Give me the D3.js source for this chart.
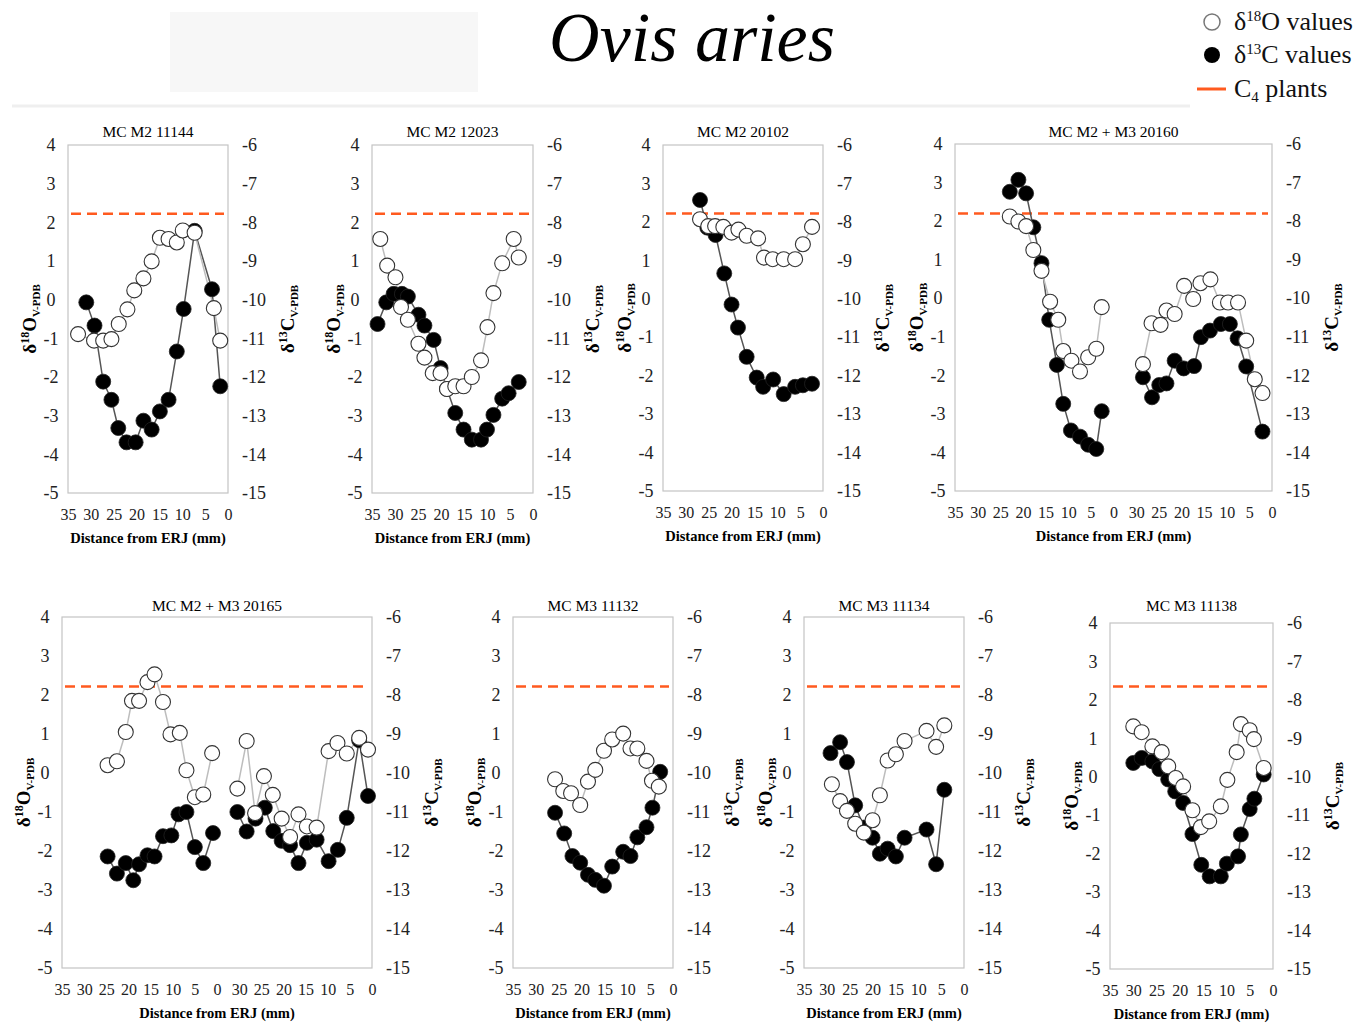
<!DOCTYPE html>
<html lang="en">
<head>
<meta charset="UTF-8">
<title>Ovis aries</title>
<style>
  body { margin: 0; background: #fff; }
  svg text { font-family: "Liberation Serif", "DejaVu Serif", serif; }
</style>
</head>
<body>
<svg id="chart" width="1368" height="1025"></svg>
<script src="https://d3js.org/d3.v7.min.js"></script>
<script>
var SERIF = "'Liberation Serif', 'DejaVu Serif', serif";

// sample names (panel titles)
var sampleNames = ["MC M2 11144", "MC M2 12023", "MC M2 20102", "MC M2 + M3 20160",
                   "MC M2 + M3 20165", "MC M3 11132", "MC M3 11134", "MC M3 11138"];

// tick values
var o18Ticks = [-5, -4, -3, -2, -1, 0, 1, 2, 3, 4];
var c13Ticks = [-15, -14, -13, -12, -11, -10, -9, -8, -7, -6];
var distTicks = [35, 30, 25, 20, 15, 10, 5, 0];

// C4 plants threshold, d13C (per panel, as read)
var c4Level = [-7.78, -7.78, -7.78, -7.80, -7.78, -7.78, -7.78, -7.65];

// [distance from ERJ (mm), value]
var o11144 = [[32.8,-0.89],[29.3,-1.06],[27.3,-1.06],[25.5,-1.02],[23.9,-0.63],[22.0,-0.25],[20.5,0.24],[18.5,0.55],[16.7,0.99],[14.9,1.60],[13.0,1.57],[11.2,1.48],[9.9,1.79],[7.3,1.73],[3.1,-0.22],[1.7,-1.06]];
var c11144 = [[31.0,-10.07],[29.2,-10.67],[27.3,-12.12],[25.5,-12.59],[24.0,-13.32],[22.2,-13.69],[20.2,-13.69],[18.5,-13.13],[16.7,-13.36],[14.9,-12.89],[13.0,-12.59],[11.2,-11.34],[9.7,-10.24],[7.3,-8.22],[3.5,-9.73],[1.7,-12.24]];

var o12023 = [[33.2,1.57],[31.7,0.88],[29.9,0.58],[28.7,-0.19],[27.2,-0.52],[24.9,-1.14],[23.6,-1.50],[21.8,-1.90],[20.1,-1.90],[18.7,-2.31],[16.9,-2.24],[15.1,-2.24],[13.3,-2.00],[11.3,-1.57],[9.9,-0.71],[8.6,0.17],[6.7,0.94],[4.2,1.57],[3.1,1.09]];
var c12023 = [[33.8,-10.63],[31.9,-10.07],[30.3,-9.85],[28.5,-9.85],[27.2,-9.92],[24.9,-10.39],[23.6,-10.67],[21.6,-11.04],[20.1,-11.77],[18.7,-12.31],[16.9,-12.93],[15.1,-13.36],[13.3,-13.62],[11.3,-13.62],[10.0,-13.36],[8.6,-12.98],[6.7,-12.56],[5.3,-12.42],[3.1,-12.13]];

var o20102 = [[26.9,2.07],[25.1,1.89],[23.6,1.89],[21.8,1.87],[20.0,1.72],[18.5,1.80],[16.7,1.64],[14.2,1.57],[12.9,1.07],[11.0,1.03],[8.6,1.03],[6.1,1.03],[4.4,1.42],[2.4,1.87]];
var c20102 = [[26.9,-7.43],[25.3,-8.15],[23.5,-8.34],[21.6,-9.34],[20.0,-10.15],[18.6,-10.75],[16.7,-11.51],[14.5,-12.05],[13.1,-12.29],[10.9,-12.10],[8.6,-12.48],[6.1,-12.29],[4.4,-12.25],[2.4,-12.21]];

var o20160M2 = [[22.9,2.12],[21.0,1.99],[19.3,1.87],[17.7,1.25],[15.9,0.71],[14.0,-0.09],[12.2,-0.56],[11.1,-1.37],[9.3,-1.62],[7.4,-1.90],[5.6,-1.53],[3.8,-1.31],[2.6,-0.23]];
var c20160M2 = [[22.9,-7.24],[21.0,-6.93],[19.3,-7.28],[17.7,-8.16],[15.9,-9.09],[14.2,-10.56],[12.5,-11.73],[11.1,-12.74],[9.4,-13.43],[7.4,-13.59],[5.6,-13.80],[3.8,-13.91],[2.6,-12.93]];
var o20160M3 = [[28.5,-1.71],[26.6,-0.65],[24.6,-0.69],[23.3,-0.32],[21.5,-0.41],[19.4,0.32],[17.4,-0.02],[15.8,0.39],[13.6,0.49],[11.5,-0.11],[9.7,-0.11],[7.5,-0.11],[5.7,-1.10],[3.8,-2.10],[2.1,-2.46]];
var c20160M3 = [[28.5,-12.05],[26.5,-12.57],[24.9,-12.25],[23.3,-12.21],[21.5,-11.62],[19.5,-11.82],[17.2,-11.76],[15.7,-11.01],[13.7,-10.84],[11.3,-10.67],[9.3,-10.67],[7.6,-11.04],[5.7,-11.77],[2.1,-13.46]];

var o20165M2 = [[24.7,0.20],[22.6,0.30],[20.6,1.05],[19.2,1.85],[17.6,1.85],[15.7,2.33],[14.1,2.53],[12.2,1.82],[10.5,0.99],[8.4,1.03],[6.9,0.07],[5.0,-0.62],[3.1,-0.55],[1.1,0.51]];
var c20165M2 = [[24.7,-12.14],[22.6,-12.58],[20.6,-12.31],[18.9,-12.75],[17.6,-12.34],[15.7,-12.11],[14.1,-12.14],[12.2,-11.62],[10.3,-11.60],[8.7,-11.06],[6.9,-11.00],[5.0,-11.90],[3.1,-12.31],[0.9,-11.54]];
var o20165M3 = [[30.4,-0.40],[28.3,0.82],[26.4,-1.03],[24.4,-0.08],[22.4,-0.56],[20.4,-1.17],[18.5,-1.64],[16.6,-1.06],[14.7,-1.37],[12.5,-1.40],[9.8,0.56],[7.8,0.77],[5.7,0.50],[2.9,0.90],[0.9,0.60]];
var c20165M3 = [[30.4,-11.00],[28.3,-11.50],[26.3,-11.17],[24.2,-10.89],[22.3,-11.49],[20.4,-11.74],[18.5,-11.85],[16.6,-12.31],[14.7,-11.79],[12.5,-11.71],[9.8,-12.26],[7.7,-11.97],[5.7,-11.15],[2.9,-9.16],[0.9,-10.59]];

var o11132 = [[25.8,-0.16],[24.0,-0.46],[22.3,-0.52],[20.3,-0.82],[18.6,-0.22],[17.0,0.08],[15.1,0.57],[13.3,0.86],[10.9,1.01],[9.3,0.63],[7.8,0.63],[5.8,0.31],[4.6,-0.20],[3.1,-0.35]];
var c11132 = [[25.8,-11.02],[23.8,-11.55],[22.0,-12.13],[20.3,-12.30],[18.6,-12.61],[17.0,-12.74],[15.1,-12.89],[13.3,-12.40],[10.9,-12.02],[9.3,-12.13],[7.8,-11.65],[5.8,-11.39],[4.5,-10.89],[2.8,-9.97]];

var o11134 = [[28.9,-0.29],[27.1,-0.72],[25.6,-0.97],[23.8,-1.30],[21.9,-1.53],[20.0,-1.21],[18.4,-0.57],[16.7,0.32],[14.9,0.48],[13.0,0.82],[8.2,1.08],[6.1,0.67],[4.3,1.22]];
var c11134 = [[29.2,-9.49],[27.1,-9.21],[25.6,-9.72],[23.8,-10.83],[21.9,-11.40],[20.0,-11.66],[18.4,-12.07],[16.7,-11.94],[14.9,-12.14],[13.0,-11.66],[8.2,-11.45],[6.1,-12.34],[4.3,-10.43]];

var o11138 = [[30.0,1.31],[28.2,1.16],[25.9,0.79],[23.9,0.64],[22.5,0.27],[20.9,-0.03],[19.3,-0.25],[17.3,-0.87],[15.5,-1.31],[13.7,-1.16],[11.2,-0.77],[9.8,-0.08],[7.8,0.64],[6.9,1.37],[5.0,1.21],[4.1,0.98],[2.0,0.23]];
var c11138 = [[30.0,-9.64],[28.2,-9.51],[25.9,-9.60],[24.4,-9.80],[22.5,-10.07],[21.0,-10.38],[19.3,-10.68],[17.3,-11.49],[15.4,-12.29],[13.6,-12.59],[11.2,-12.59],[9.9,-12.26],[7.5,-12.07],[6.9,-11.50],[5.0,-10.84],[4.0,-10.57],[2.0,-9.94]];

// series per panel; two segments = M2 then M3 on a joined axis
var oxygenSeries = [[o11144], [o12023], [o20102], [o20160M2, o20160M3],
                    [o20165M2, o20165M3], [o11132], [o11134], [o11138]];
var carbonSeries = [[c11144], [c12023], [c20102], [c20160M2, c20160M3],
                    [c20165M2, c20165M3], [c11132], [c11134], [c11138]];

// panel frames (layout only)
var boxes = [
  { x0: 68,   x1: 228,  y0: 145, y1: 493, ty: 137 },
  { x0: 372,  x1: 533,  y0: 145, y1: 493, ty: 137 },
  { x0: 663,  x1: 823,  y0: 145, y1: 491, ty: 137 },
  { x0: 955,  x1: 1272, y0: 144, y1: 491, ty: 137 },
  { x0: 62,   x1: 372,  y0: 617, y1: 968, ty: 611 },
  { x0: 513,  x1: 673,  y0: 617, y1: 968, ty: 611 },
  { x0: 804,  x1: 964,  y0: 617, y1: 968, ty: 611 },
  { x0: 1110, x1: 1273, y0: 623, y1: 969, ty: 611 }
];

var svg = d3.select("#chart");

// faint scan artefacts of the original figure
svg.append("rect").attr("x", 170).attr("y", 12).attr("width", 308).attr("height", 80).attr("fill", "#f7f7f7");
svg.append("line").attr("x1", 12).attr("x2", 1190).attr("y1", 106).attr("y2", 106)
   .attr("stroke", "#efefef").attr("stroke-width", 3);

// title
svg.append("text")
   .attr("x", 692).attr("y", 61)
   .attr("text-anchor", "middle")
   .style("font-family", SERIF)
   .style("font-size", "70px").style("font-style", "italic")
   .text("Ovis aries");

// legend
var legend = svg.append("g");
legend.append("circle").attr("cx", 1212).attr("cy", 22).attr("r", 8)
      .attr("fill", "#fff").attr("stroke", "#777").attr("stroke-width", 1.5);
legend.append("circle").attr("cx", 1212).attr("cy", 55).attr("r", 8).attr("fill", "#000");
legend.append("line").attr("x1", 1197).attr("x2", 1226).attr("y1", 89).attr("y2", 89)
      .attr("stroke", "#ff5a1f").attr("stroke-width", 3);

function legendText(y, parts) {
  var t = legend.append("text").attr("x", 1234).attr("y", y)
                .style("font-family", SERIF).style("font-size", "26px").style("fill", "#111");
  parts.forEach(function(p) {
    var s = t.append("tspan").text(p[0]);
    if (p[1] === "sup") s.attr("dy", -9).style("font-size", "15px");
    else if (p[1] === "sub") s.attr("dy", 5).style("font-size", "15px");
    else if (p[1] === "back") s.attr("dy", 9);
    else if (p[1] === "up") s.attr("dy", -5);
  });
}
legendText(30, [["δ"], ["18", "sup"], ["O values", "back"]]);
legendText(63, [["δ"], ["13", "sup"], ["C values", "back"]]);
legendText(97, [["C"], ["4", "sub"], [" plants", "up"]]);

function axisTitle(g, x, y, main, sup, tail) {
  var t = g.append("text")
           .attr("transform", "translate(" + x + "," + y + ") rotate(-90)")
           .attr("text-anchor", "middle")
           .style("font-family", SERIF)
           .style("font-weight", "bold").style("font-size", "19px");
  t.append("tspan").text("δ");
  t.append("tspan").attr("dy", -7).style("font-size", "12px").text(sup);
  t.append("tspan").attr("dy", 7).text(main);
  t.append("tspan").attr("dy", 4).style("font-size", "11px").text(tail);
}

function styleTicks(a, size) {
  a.select(".domain").remove();
  a.attr("font-family", null).attr("font-size", null);
  a.selectAll("text")
   .attr("fill", "#222")
   .style("font-family", SERIF)
   .style("font-size", size + "px");
}

sampleNames.forEach(function(name, i) {
  var box = boxes[i];
  var joined = oxygenSeries[i].length > 1;
  var xMax = joined ? 70 : 35;

  var x = d3.scaleLinear().domain([xMax, 0]).range([box.x0, box.x1]);
  var yL = d3.scaleLinear().domain([-5, 4]).range([box.y1, box.y0]);
  var yR = d3.scaleLinear().domain([-15, -6]).range([box.y1, box.y0]);

  var g = svg.append("g");

  // frame
  g.append("rect")
   .attr("x", box.x0).attr("y", box.y0)
   .attr("width", box.x1 - box.x0).attr("height", box.y1 - box.y0)
   .attr("fill", "none").attr("stroke", "#c4c4c4").attr("stroke-width", 1.2);

  // panel title
  g.append("text")
   .attr("x", (box.x0 + box.x1) / 2).attr("y", box.ty)
   .attr("text-anchor", "middle")
   .style("font-family", SERIF).style("font-size", "15.5px")
   .text(name);

  // left axis (labels centred as in the original)
  g.append("g")
   .attr("transform", "translate(" + (box.x0 - 17) + ",0)")
   .call(d3.axisLeft(yL).tickValues(o18Ticks).tickSize(0).tickPadding(0).tickFormat(function(d) { return String(d); }))
   .call(styleTicks, 18)
   .call(function(a) { a.selectAll("text").attr("text-anchor", "middle"); });

  // right axis
  g.append("g")
   .attr("transform", "translate(" + (box.x1 + 14) + ",0)")
   .call(d3.axisRight(yR).tickValues(c13Ticks).tickSize(0).tickPadding(0).tickFormat(function(d) { return String(d); }))
   .call(styleTicks, 18);

  // bottom axis
  var xt = joined ? distTicks.map(function(d) { return d + 35; }).concat(distTicks.slice(1)) : distTicks;
  g.append("g")
   .attr("transform", "translate(0," + (box.y1 + 16) + ")")
   .call(d3.axisBottom(x).tickValues(xt).tickSize(0).tickPadding(0)
          .tickFormat(function(d) { return String(joined && d >= 35 ? d - 35 : d); }))
   .call(styleTicks, 16);

  g.append("text")
   .attr("x", (box.x0 + box.x1) / 2).attr("y", box.y1 + 50)
   .attr("text-anchor", "middle")
   .style("font-family", SERIF)
   .style("font-weight", "bold").style("font-size", "14.5px")
   .text("Distance from ERJ (mm)");

  var yMid = (box.y0 + box.y1) / 2;
  axisTitle(g, box.x0 - 32, yMid, "O", "18", "V-PDB");
  axisTitle(g, box.x1 + 66, yMid, "C", "13", "V-PDB");

  // C4 plants line
  g.append("line")
   .attr("x1", box.x0 + 3).attr("x2", box.x1 - 4)
   .attr("y1", yR(c4Level[i])).attr("y2", yR(c4Level[i]))
   .attr("stroke", "#ff5a1f").attr("stroke-width", 2.5)
   .attr("stroke-dasharray", "10,6");

  function px(seg, d) { return x(joined && seg === 0 ? d[0] + 35 : d[0]); }

  // carbon series line (right axis)
  carbonSeries[i].forEach(function(seg, s) {
    g.append("path").datum(seg)
     .attr("fill", "none").attr("stroke", "#555").attr("stroke-width", 1.5)
     .attr("d", d3.line().x(function(d) { return px(s, d); }).y(function(d) { return yR(d[1]); }));
  });
  // oxygen series line (left axis)
  oxygenSeries[i].forEach(function(seg, s) {
    g.append("path").datum(seg)
     .attr("fill", "none").attr("stroke", "#bdbdbd").attr("stroke-width", 1.5)
     .attr("d", d3.line().x(function(d) { return px(s, d); }).y(function(d) { return yL(d[1]); }));
  });
  carbonSeries[i].forEach(function(seg, s) {
    g.selectAll(null).data(seg).enter().append("circle")
     .attr("cx", function(d) { return px(s, d); })
     .attr("cy", function(d) { return yR(d[1]); })
     .attr("r", 7.5).attr("fill", "#000").attr("stroke", "#222").attr("stroke-width", 0.8);
  });
  oxygenSeries[i].forEach(function(seg, s) {
    g.selectAll(null).data(seg).enter().append("circle")
     .attr("cx", function(d) { return px(s, d); })
     .attr("cy", function(d) { return yL(d[1]); })
     .attr("r", 7.5).attr("fill", "#fff").attr("stroke", "#333").attr("stroke-width", 1.1);
  });
});
</script>
</body>
</html>
